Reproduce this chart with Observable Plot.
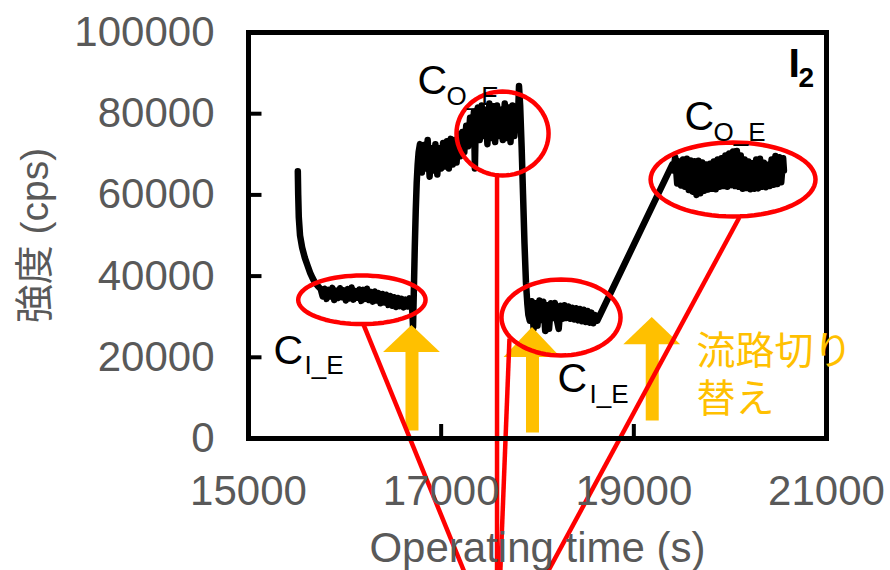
<!DOCTYPE html>
<html>
<head>
<meta charset="utf-8">
<script src="https://cdn.jsdelivr.net/npm/d3@7"></script>
<script src="https://cdn.jsdelivr.net/npm/@observablehq/plot@0.6"></script>
<style>
  html, body { margin: 0; padding: 0; background: #fff; overflow: hidden; }
</style>
</head>
<body>
<div id="chart"></div>
<script>
// ---------- data (time s, intensity cps) ----------
const decay = [[15512,65800],[15516,60000],[15522,54500],[15535,50000],[15557,47000],[15585,44500],[15610,42800],[15640,40800],[15665,39500],[15690,38400],[15715,37700],[15750,36800]];
const plateau1 = [[15770,35000],[15790,36900],[15810,34400],[15830,36600],[15850,35000],[15870,37100],[15890,34100],[15910,36400],[15930,34600],[15950,37000],[15970,34800],[15990,36500],[16010,34000],[16030,36800],[16050,34500],[16070,37200],[16090,34200],[16110,36300],[16130,34700],[16150,36700],[16170,33900],[16190,36600],[16210,34400],[16230,36900],[16250,34100],[16270,36100],[16290,33700],[16310,36200],[16330,34000],[16350,35800],[16370,33300],[16390,35600],[16410,33500],[16430,35400],[16450,32900],[16470,35100],[16490,32700],[16510,34800],[16530,32400],[16550,34600],[16570,32600],[16590,34400],[16610,32300],[16630,34200],[16650,32500],[16670,34500],[16690,33000]];
const switch1 = [[16700,31500],[16708,27500],[16716,36000],[16726,47000],[16736,56000],[16746,63000],[16756,67500],[16766,70500]];
const plateau2 = [[16780,72500],[16800,65500],[16820,72300],[16840,66500],[16860,73500],[16880,64500],[16900,71500],[16920,66000],[16940,72500],[16960,65000],[16980,71500],[17000,66500],[17020,72800],[17040,67000],[17060,73200],[17080,66500],[17100,73800],[17120,67500],[17140,73500],[17160,68000],[17180,75000],[17200,69500]];
const step2 = [[17220,75500],[17240,70500],[17260,77000],[17280,72000],[17300,79000],[17320,73500],[17340,80500],[17350,66500],[17360,79000]];
const plateau3 = [[17380,81500],[17400,73500],[17420,82000],[17440,74500],[17460,81000],[17480,72500],[17500,82500],[17520,74000],[17540,81500],[17560,73000],[17580,82000],[17600,74500],[17620,81000],[17640,73500],[17660,82500],[17680,74000],[17700,81500],[17720,73000],[17740,82000],[17760,74500],[17780,81000],[17795,77000]];
const switch2 = [[17808,86800],[17820,82000],[17835,72000],[17850,60000],[17865,48000],[17880,38500],[17895,33000],[17905,30500]];
const plateau4 = [[17920,29000],[17940,33800],[17960,27000],[17980,33300],[18000,27800],[18020,34000],[18040,29200],[18060,33700],[18080,26500],[18100,32800],[18120,27000],[18140,33300],[18160,29700],[18180,33400],[18200,29300],[18220,27000],[18240,32700],[18260,29500],[18280,32800],[18300,29700],[18320,32500],[18340,29500],[18360,32200],[18380,29300],[18400,32100],[18420,29100],[18440,31900],[18460,28900],[18480,31700],[18500,28700],[18520,31400],[18540,28500],[18560,31000],[18580,28400],[18600,30400],[18620,29000]];
const plateau5 = [[19400,67500],[19410,66000],[19430,69300],[19450,62800],[19470,68200],[19490,62300],[19510,68700],[19530,62000],[19550,68900],[19570,61200],[19590,68500],[19610,60800],[19630,68300],[19650,60000],[19670,68400],[19690,60400],[19710,68000],[19730,61000],[19750,67500],[19770,61300],[19790,67700],[19810,61500],[19830,68200],[19850,61400],[19870,68700],[19890,62000],[19910,69000],[19930,62200],[19950,69700],[19970,62000],[19990,70200],[20010,62400],[20030,70700],[20050,62200],[20070,70800],[20090,62000],[20110,69700],[20130,61500],[20150,68700],[20170,61700],[20190,68200],[20210,61400],[20230,67800],[20250,61500],[20270,68700],[20290,61600],[20310,68900],[20330,62000],[20350,67900],[20370,61900],[20390,67400],[20410,62200],[20430,68700],[20450,62500],[20470,69600],[20490,62700],[20510,69300],[20530,63100],[20550,69000],[20558,66000]];

const xTicks = [15000, 17000, 19000, 21000];
const yTicks = [0, 20000, 40000, 60000, 80000, 100000];
const xInnerTicks = [17000, 19000];
const yInnerTicks = [20000, 40000, 60000, 80000];

// annotations (data coordinates)
const ellipses = [
  {id: 1, t: 16177, v: 34160, rt: 661, rv: 5985},
  {id: 2, t: 17637, v: 75120, rt: 478, rv: 10345},
  {id: 3, t: 18244, v: 29800, rt: 618, rv: 9360},
  {id: 4, t: 20030, v: 63790, rt: 856, rv: 9113}
];
const connectors = [
  {t1: 16192, v1: 28150, t2: 17260, v2: -34000},
  {t1: 17580, v1: 64780, t2: 17580, v2: -34000},
  {t1: 17709, v1: 24630, t2: 17612, v2: -34000},
  {t1: 20095, v1: 54430, t2: 18080, v2: -34000}
];
const arrows = [
  {t: 16697, tip: 27830, base: 21180, bottom: 1970},
  {t: 17948, tip: 27340, base: 19950, bottom: 1480},
  {t: 19191, tip: 29800, base: 23100, bottom: 4430}
];
const arrowHalf = 295;
const labelsMain = [
  {t: 15260, v: 21675, text: "C"},
  {t: 18208, v: 14780, text: "C"},
  {t: 16754, v: 88180, text: "C"},
  {t: 19526, v: 79310, text: "C"}
];
const labelsSub = [
  {t: 15581, v: 17980, text: "I_E"},
  {t: 18540, v: 10840, text: "I_E"},
  {t: 17055, v: 84240, text: "O_E"},
  {t: 19827, v: 75370, text: "O_E"}
];
const switchText = [{t: 19651, v: 16130, text: "流路切り\n替え"}];

// ---------- build ----------
const series = [...decay, ...plateau1, ...switch1, ...plateau2, ...step2, ...plateau3, ...switch2, ...plateau4, ...plateau5]
  .map(([t, v]) => ({t, v}));

const ellipsePts = ellipses.flatMap(e => d3.range(0, 73).map(i => {
  const a = (i / 72) * 2 * Math.PI;
  return {id: e.id, t: e.t + e.rt * Math.cos(a), v: e.v + e.rv * Math.sin(a)};
}));
const headPts = arrows.flatMap((a, i) => [
  {id: i, t: a.t - arrowHalf, y1: a.base, y2: a.base},
  {id: i, t: a.t, y1: a.base, y2: a.tip},
  {id: i, t: a.t + arrowHalf, y1: a.base, y2: a.base}
]);

const FONT = "'Liberation Sans', Arial, 'Noto Sans CJK JP', sans-serif";
const GREY = "#595959";
const ORANGE = "#FFC000";

const chart = Plot.plot({
  width: 890,
  height: 570,
  marginLeft: 248,
  marginRight: 64,
  marginTop: 32,
  marginBottom: 132,
  x: {domain: [15000, 21000], axis: null},
  y: {domain: [0, 100000], axis: null},
  style: {background: "white", fontFamily: FONT, overflow: "visible"},
  marks: [
    Plot.line(series, {x: "t", y: "v", stroke: "black", strokeWidth: 6.5, strokeLinejoin: "round", strokeLinecap: "round"}),
    Plot.link(arrows, {x1: "t", x2: "t", y1: "bottom", y2: d => d.base + 500, stroke: ORANGE, strokeWidth: 13}),
    Plot.areaY(headPts, {x: "t", y1: "y1", y2: "y2", z: "id", fill: ORANGE}),
    Plot.line(ellipsePts, {x: "t", y: "v", z: "id", stroke: "#FF0000", strokeWidth: 4.5}),
    Plot.link(connectors, {x1: "t1", y1: "v1", x2: "t2", y2: "v2", stroke: "#FF0000", strokeWidth: 4.5}),
    Plot.ruleY(yInnerTicks, {x1: 15000, x2: 15140, stroke: "black", strokeWidth: 4}),
    Plot.ruleX(xInnerTicks, {y1: 0, y2: 3450, stroke: "black", strokeWidth: 4}),
    Plot.frame({stroke: "black", strokeWidth: 5}),
    Plot.text(yTicks, {x: 15000, y: d => d, text: d => String(d), textAnchor: "end", dx: -34, fontSize: 42, fill: GREY}),
    Plot.text(xTicks, {x: d => d, y: 0, text: d => String(d), dy: 53, fontSize: 42, fill: GREY}),
    Plot.text(["Operating time (s)"], {x: 18000, y: 0, dy: 110, text: d => d, fontSize: 42, fill: GREY}),
    Plot.text(["強度 (cps)"], {x: 15000, y: 50000, dx: -213, text: d => d, rotate: -90, fontSize: 39, fill: GREY}),
    Plot.text(labelsMain, {x: "t", y: "v", text: "text", textAnchor: "start", fontSize: 41, fill: "black"}),
    Plot.text(labelsSub, {x: "t", y: "v", text: "text", textAnchor: "start", fontSize: 26, fill: "black"}),
    Plot.text(["I"], {x: 20606, y: 92360, text: d => d, textAnchor: "start", fontSize: 41, fontWeight: "bold", fill: "black"}),
    Plot.text(["2"], {x: 20709, y: 88670, text: d => d, textAnchor: "start", fontSize: 28, fontWeight: "bold", fill: "black"}),
    Plot.text(switchText, {x: "t", y: "v", text: "text", textAnchor: "start", lineAnchor: "middle", lineHeight: 1.23, fontSize: 39, fill: ORANGE, fontFamily: "'Noto Sans CJK JP', sans-serif"})
  ]
});
document.getElementById("chart").appendChild(chart);
</script>
</body>
</html>
